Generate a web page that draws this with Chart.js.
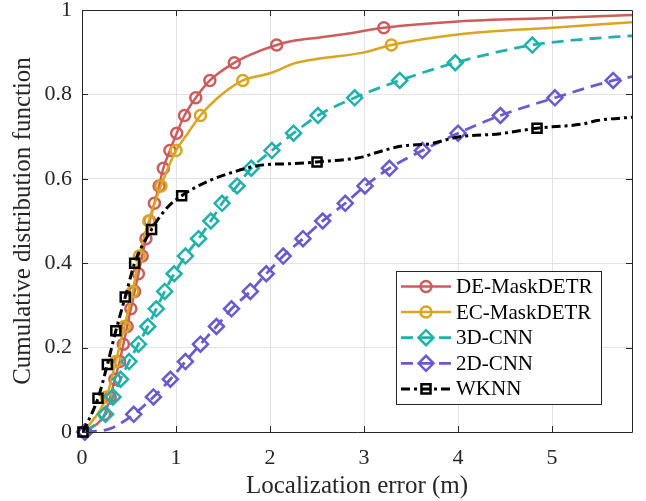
<!DOCTYPE html>
<html>
<head>
<meta charset="utf-8">
<script src="https://cdn.jsdelivr.net/npm/chart.js@4.4.1/dist/chart.umd.min.js"></script>
<style>
  body { margin: 0; background: #fff; }
</style>
</head>
<body>
<canvas id="cdf-chart" width="646" height="501"></canvas>
<script>
// [error (m), CDF]; "marks" are where the markers sit,
// "extra" are additional points the line passes through between markers
const deMarks = [[0.02,0],[0.24,0.042],[0.30,0.083],[0.35,0.125],[0.40,0.167],[0.44,0.208],[0.48,0.25],
  [0.52,0.292],[0.56,0.333],[0.60,0.375],[0.64,0.417],[0.68,0.458],[0.72,0.5],[0.77,0.542],[0.82,0.583],
  [0.865,0.625],[0.935,0.667],[1.007,0.708],[1.09,0.75],[1.21,0.792],[1.36,0.833],[1.62,0.875],[2.07,0.917],[3.21,0.958]];
const deExtra = [[1.8,0.895],[2.25,0.927],[2.53,0.935],[2.8,0.943],[4.0,0.973],[5.0,0.981],[5.85,0.988]];

const ecMarks = [[0.02,0],[0.26,0.083],[0.36,0.167],[0.45,0.25],[0.54,0.333],[0.61,0.417],[0.71,0.5],
  [0.84,0.583],[1.0,0.667],[1.26,0.75],[1.71,0.833],[3.29,0.917]];
const ecExtra = [[1.11,0.703],[1.43,0.789],[2.0,0.85],[2.28,0.875],[2.53,0.885],[2.99,0.899],[4.0,0.942],[5.0,0.958],[5.85,0.971]];

const cnn3Marks = [[0.03,0],[0.25,0.042],[0.33,0.083],[0.41,0.125],[0.50,0.167],[0.60,0.208],[0.70,0.25],
  [0.79,0.292],[0.88,0.333],[0.98,0.375],[1.10,0.417],[1.24,0.458],[1.37,0.5],[1.49,0.542],[1.65,0.583],
  [1.80,0.625],[2.02,0.667],[2.25,0.708],[2.51,0.75],[2.90,0.792],[3.38,0.833],[3.97,0.875],[4.79,0.917]];
const cnn3Extra = [[5.3,0.93],[5.85,0.939]];

const cnn2Marks = [[0.03,0],[0.55,0.042],[0.76,0.083],[0.94,0.125],[1.10,0.167],[1.26,0.208],[1.43,0.25],
  [1.59,0.292],[1.79,0.333],[1.96,0.375],[2.14,0.417],[2.35,0.458],[2.56,0.5],[2.80,0.542],[3.01,0.583],
  [3.27,0.625],[3.62,0.667],[4.00,0.708],[4.45,0.75],[5.03,0.792],[5.65,0.833]];
const cnn2Extra = [[0.3,0.008],[5.85,0.842]];

const wknnMarks = [[0.01,0],[0.17,0.08],[0.27,0.16],[0.36,0.24],[0.46,0.32],[0.56,0.40],[0.74,0.48],
  [1.06,0.56],[2.50,0.64],[4.84,0.72]];
const wknnExtra = [[0.9,0.53],[1.33,0.593],[1.61,0.616],[1.93,0.633],[2.25,0.636],[2.99,0.652],[3.10,0.66],
  [3.41,0.678],[3.70,0.683],[4.0,0.699],[4.45,0.707],[5.33,0.73],[5.48,0.738],[5.85,0.746]];

const xTicks = [0, 1, 2, 3, 4, 5];
const yTicks = [0, 0.2, 0.4, 0.6, 0.8, 1];

const FONT = "'Liberation Serif', 'Times New Roman', serif";
const AXIS = '#262626';

const series = [
  { label: 'DE-MaskDETR', marks: deMarks, extra: deExtra, color: 'indianred', point: 'circle', r: 5.5, dash: [], bw: 2.5 },
  { label: 'EC-MaskDETR', marks: ecMarks, extra: ecExtra, color: 'goldenrod', point: 'circle', r: 5.5, dash: [], bw: 2.5 },
  { label: '3D-CNN', marks: cnn3Marks, extra: cnn3Extra, color: 'lightseagreen', point: 'rectRot', r: 7.5, dash: [12, 7], bw: 2.8 },
  { label: '2D-CNN', marks: cnn2Marks, extra: cnn2Extra, color: 'slateblue', point: 'rectRot', r: 7.5, dash: [12, 7], bw: 2.8 },
  { label: 'WKNN', marks: wknnMarks, extra: wknnExtra, color: 'black', point: 'rect', r: 6.4, dash: [9, 4, 3, 4], bw: 3 },
];

const toPts = arr => arr.map(([x, y]) => ({ x, y }));

// later series on top, like matlab
const datasets = [];
series.slice().reverse().forEach(s => {
  const curve = toPts(s.marks.concat(s.extra)).sort((a, b) => a.x - b.x);
  datasets.push({
    data: toPts(s.marks),
    showLine: false,
    pointStyle: s.point,
    pointRadius: s.r,
    pointBorderWidth: 2.5,
    pointBorderColor: s.color,
    pointBackgroundColor: 'rgba(0,0,0,0)',
    clip: false,
  });
  datasets.push({
    data: curve,
    borderColor: s.color,
    borderWidth: s.bw,
    borderDash: s.dash,
    pointRadius: 0,
    cubicInterpolationMode: 'monotone',
    fill: false,
  });
});

// box around the axes + inward ticks on all four sides
const frame = {
  id: 'frame',
  afterDatasetsDraw(chart) {
    const { ctx, chartArea: a, scales: { x, y } } = chart;
    ctx.save();
    ctx.strokeStyle = AXIS;
    ctx.lineWidth = 1;
    ctx.beginPath();
    ctx.rect(a.left + 0.5, a.top + 0.5, a.right - a.left, a.bottom - a.top);
    x.ticks.forEach(t => {
      const px = Math.round(x.getPixelForValue(t.value)) + 0.5;
      ctx.moveTo(px, a.bottom); ctx.lineTo(px, a.bottom - 6);
      ctx.moveTo(px, a.top); ctx.lineTo(px, a.top + 6);
    });
    y.ticks.forEach(t => {
      const py = Math.round(y.getPixelForValue(t.value)) + 0.5;
      ctx.moveTo(a.left, py); ctx.lineTo(a.left + 6, py);
      ctx.moveTo(a.right, py); ctx.lineTo(a.right - 6, py);
    });
    ctx.stroke();
    ctx.restore();
  }
};

const matlabLegend = {
  id: 'matlabLegend',
  afterDraw(chart) {
    const { ctx, chartArea: a } = chart;
    const w = 205, h = 133;
    const left = a.right - 31 - w, top = a.bottom - 28 - h;
    ctx.save();
    ctx.fillStyle = '#fff';
    ctx.fillRect(left, top, w, h);
    ctx.strokeStyle = AXIS;
    ctx.lineWidth = 1;
    ctx.strokeRect(left + 0.5, top + 0.5, w, h);
    ctx.font = '21px ' + FONT;
    ctx.textBaseline = 'middle';
    series.forEach((s, i) => {
      const cy = top + 15.5 + i * 25.6;
      ctx.strokeStyle = s.color;
      ctx.lineWidth = s.bw;
      ctx.setLineDash(s.dash);
      ctx.beginPath();
      ctx.moveTo(left + 5, cy);
      ctx.lineTo(left + 55, cy);
      ctx.stroke();
      ctx.setLineDash([]);
      ctx.lineWidth = 2.5;
      ctx.fillStyle = 'rgba(0,0,0,0)';
      Chart.helpers.drawPoint(ctx, { pointStyle: s.point, radius: s.r, borderWidth: 2.5, rotation: 0 }, left + 30, cy);
      ctx.fillStyle = '#000';
      ctx.fillText(s.label, left + 60, cy + 1);
    });
    ctx.restore();
  }
};

new Chart(document.getElementById('cdf-chart').getContext('2d'), {
  type: 'line',
  data: { datasets },
  options: {
    responsive: false,
    animation: false,
    devicePixelRatio: 1,
    layout: { padding: { left: 0, top: 8, right: 14, bottom: 0 } },
    plugins: { legend: { display: false }, tooltip: { enabled: false } },
    scales: {
      x: {
        type: 'linear',
        min: 0, max: 5.85,
        afterFit: s => { s.height = 69; s.paddingLeft = 0; s.paddingRight = 0; },
        afterBuildTicks: s => { s.ticks = xTicks.map(v => ({ value: v })); },
        grid: { color: '#e3e3e3', drawTicks: false },
        border: { display: false },
        ticks: { color: AXIS, padding: 13, font: { family: FONT, size: 22 }, callback: v => String(v) },
        title: { display: true, text: 'Localization error (m)', color: AXIS, font: { family: FONT, size: 25 }, padding: { top: 0, bottom: 0 } }
      },
      y: {
        type: 'linear',
        min: 0, max: 1,
        afterFit: s => { s.width = 82; s.paddingTop = 0; s.paddingBottom = 0; },
        afterBuildTicks: s => { s.ticks = yTicks.map(v => ({ value: v })); },
        grid: { color: '#e3e3e3', drawTicks: false },
        border: { display: false },
        ticks: { color: AXIS, padding: 10, font: { family: FONT, size: 22 }, callback: v => String(v) },
        title: { display: true, text: 'Cumulative distribution function', color: AXIS, font: { family: FONT, size: 25 }, padding: { top: 8, bottom: 0 } }
      }
    }
  },
  plugins: [frame, matlabLegend]
});
</script>
</body>
</html>
